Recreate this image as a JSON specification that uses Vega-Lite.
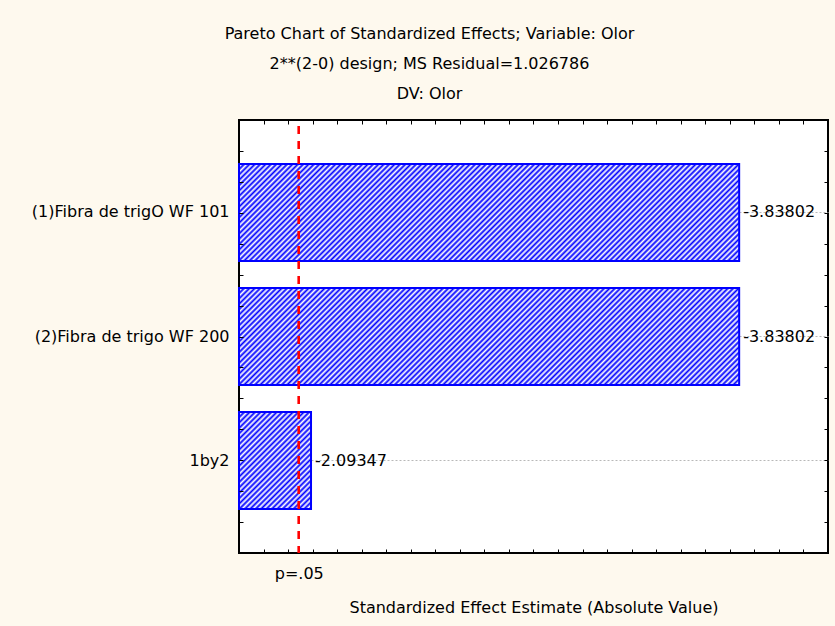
{
  "$schema": "https://vega.github.io/schema/vega-lite/v6.json",
  "width": 589,
  "height": 433,
  "autosize": {"type": "none"},
  "padding": {"left": 239, "top": 120, "right": 7, "bottom": 73},
  "background": "#fef9ee",
  "config": {
    "view": {"fill": "#ffffff", "stroke": "#000000", "strokeWidth": 2},
    "font": "DejaVu Sans",
    "axis": {"labelFont": "DejaVu Sans", "titleFont": "DejaVu Sans", "labelColor": "#000000", "titleColor": "#000000", "labelFontSize": 16, "titleFontSize": 16, "titleFontWeight": "normal", "domain": false, "grid": false, "tickColor": "#000000", "tickWidth": 1}
  },
  "title": {
    "text": ["Pareto Chart of Standardized Effects; Variable: Olor", "2**(2-0) design; MS Residual=1.026786", "DV: Olor"],
    "font": "DejaVu Sans", "fontSize": 16, "fontWeight": "normal", "color": "#000000",
    "lineHeight": 30, "anchor": "middle", "frame": "group", "offset": 17, "dx": -104
  },
  "data": {"values": [
    {"effect": "(1)Fibra de trigO WF 101", "estimate": -3.83802, "abs_estimate": 3.83802},
    {"effect": "(2)Fibra de trigo WF 200", "estimate": -3.83802, "abs_estimate": 3.83802},
    {"effect": "1by2", "estimate": -2.09347, "abs_estimate": 2.09347}
  ]},
  "layer": [
    {
      "mark": {"type": "bar", "stroke": "#0000ff", "strokeWidth": 2},
      "encoding": {
        "y": {"field": "effect", "type": "nominal", "sort": null,
          "scale": {"type": "band", "paddingInner": 0.2177, "paddingOuter": 0.3548},
          "axis": {"orient": "left", "title": null, "ticks": false, "labelPadding": 10, "labelLimit": 400, "grid": true, "gridColor": "#b8b8b8", "gridDash": [2, 2], "gridWidth": 1, "bandPosition": 0.5, "zindex": 0}},
        "x": {"field": "abs_estimate", "type": "quantitative",
          "scale": {"domain": [1.8, 4.2], "nice": false, "zero": false},
          "axis": {"orient": "bottom", "values": [1.9, 2, 2.1, 2.2, 2.3, 2.4, 2.5, 2.6, 2.7, 2.8, 2.9, 3, 3.1, 3.2, 3.3, 3.4, 3.5, 3.6, 3.7, 3.8, 3.9, 4, 4.1], "labels": false, "ticks": true, "tickSize": 4, "offset": -4, "title": "Standardized Effect Estimate (Absolute Value)", "titlePadding": 46, "zindex": 1}},
        "x2": {"datum": 1.8},
        "fill": {
          "condition": {"test": "datum.abs_estimate < 3", "value": {"gradient": "linear", "x1": 0, "y1": 0, "x2": 0.834, "y2": 1.1233, "stops": [
{"offset":0,"color":"#00f"},{"offset":0.016,"color":"#fff"},{"offset":0.032,"color":"#00f"},{"offset":0.048,"color":"#fff"},{"offset":0.064,"color":"#00f"},{"offset":0.08,"color":"#fff"},{"offset":0.096,"color":"#00f"},{"offset":0.112,"color":"#fff"},{"offset":0.128,"color":"#00f"},{"offset":0.144,"color":"#fff"},
{"offset":0.16,"color":"#00f"},{"offset":0.176,"color":"#fff"},{"offset":0.192,"color":"#00f"},{"offset":0.208,"color":"#fff"},{"offset":0.224,"color":"#00f"},{"offset":0.24,"color":"#fff"},{"offset":0.256,"color":"#00f"},{"offset":0.272,"color":"#fff"},{"offset":0.288,"color":"#00f"},{"offset":0.304,"color":"#fff"},
{"offset":0.32,"color":"#00f"},{"offset":0.336,"color":"#fff"},{"offset":0.352,"color":"#00f"},{"offset":0.368,"color":"#fff"},{"offset":0.384,"color":"#00f"},{"offset":0.4,"color":"#fff"},{"offset":0.416,"color":"#00f"},{"offset":0.432,"color":"#fff"},{"offset":0.448,"color":"#00f"},{"offset":0.464,"color":"#fff"},
{"offset":0.48,"color":"#00f"},{"offset":0.496,"color":"#fff"},{"offset":0.512,"color":"#00f"},{"offset":0.528,"color":"#fff"},{"offset":0.544,"color":"#00f"},{"offset":0.56,"color":"#fff"},{"offset":0.576,"color":"#00f"},{"offset":0.592,"color":"#fff"},{"offset":0.608,"color":"#00f"},{"offset":0.624,"color":"#fff"},
{"offset":0.64,"color":"#00f"},{"offset":0.656,"color":"#fff"},{"offset":0.672,"color":"#00f"},{"offset":0.688,"color":"#fff"},{"offset":0.704,"color":"#00f"},{"offset":0.72,"color":"#fff"},{"offset":0.736,"color":"#00f"},{"offset":0.752,"color":"#fff"},{"offset":0.768,"color":"#00f"},{"offset":0.784,"color":"#fff"},
{"offset":0.8,"color":"#00f"},{"offset":0.816,"color":"#fff"},{"offset":0.832,"color":"#00f"},{"offset":0.848,"color":"#fff"},{"offset":0.864,"color":"#00f"},{"offset":0.88,"color":"#fff"},{"offset":0.896,"color":"#00f"},{"offset":0.912,"color":"#fff"},{"offset":0.928,"color":"#00f"},{"offset":0.944,"color":"#fff"},
{"offset":0.96,"color":"#00f"},{"offset":0.976,"color":"#fff"},{"offset":0.992,"color":"#00f"}
          ]}},
          "value": {"gradient": "linear", "x1": 0, "y1": 0, "x2": 1.1508, "y2": 0.2236, "stops": [
{"offset":0,"color":"#00f"},{"offset":0.0045,"color":"#fff"},{"offset":0.009,"color":"#00f"},{"offset":0.0135,"color":"#fff"},{"offset":0.018,"color":"#00f"},{"offset":0.0225,"color":"#fff"},{"offset":0.027,"color":"#00f"},{"offset":0.0315,"color":"#fff"},{"offset":0.036,"color":"#00f"},{"offset":0.0405,"color":"#fff"},
{"offset":0.045,"color":"#00f"},{"offset":0.0495,"color":"#fff"},{"offset":0.054,"color":"#00f"},{"offset":0.0585,"color":"#fff"},{"offset":0.063,"color":"#00f"},{"offset":0.0675,"color":"#fff"},{"offset":0.072,"color":"#00f"},{"offset":0.0765,"color":"#fff"},{"offset":0.081,"color":"#00f"},{"offset":0.0855,"color":"#fff"},
{"offset":0.09,"color":"#00f"},{"offset":0.0945,"color":"#fff"},{"offset":0.099,"color":"#00f"},{"offset":0.1035,"color":"#fff"},{"offset":0.108,"color":"#00f"},{"offset":0.1125,"color":"#fff"},{"offset":0.117,"color":"#00f"},{"offset":0.1215,"color":"#fff"},{"offset":0.126,"color":"#00f"},{"offset":0.1305,"color":"#fff"},
{"offset":0.135,"color":"#00f"},{"offset":0.1395,"color":"#fff"},{"offset":0.144,"color":"#00f"},{"offset":0.1485,"color":"#fff"},{"offset":0.153,"color":"#00f"},{"offset":0.1575,"color":"#fff"},{"offset":0.162,"color":"#00f"},{"offset":0.1665,"color":"#fff"},{"offset":0.171,"color":"#00f"},{"offset":0.1755,"color":"#fff"},
{"offset":0.18,"color":"#00f"},{"offset":0.1845,"color":"#fff"},{"offset":0.189,"color":"#00f"},{"offset":0.1935,"color":"#fff"},{"offset":0.198,"color":"#00f"},{"offset":0.2025,"color":"#fff"},{"offset":0.207,"color":"#00f"},{"offset":0.2115,"color":"#fff"},{"offset":0.216,"color":"#00f"},{"offset":0.2205,"color":"#fff"},
{"offset":0.225,"color":"#00f"},{"offset":0.2295,"color":"#fff"},{"offset":0.234,"color":"#00f"},{"offset":0.2385,"color":"#fff"},{"offset":0.243,"color":"#00f"},{"offset":0.2475,"color":"#fff"},{"offset":0.252,"color":"#00f"},{"offset":0.2565,"color":"#fff"},{"offset":0.261,"color":"#00f"},{"offset":0.2655,"color":"#fff"},
{"offset":0.27,"color":"#00f"},{"offset":0.2745,"color":"#fff"},{"offset":0.279,"color":"#00f"},{"offset":0.2835,"color":"#fff"},{"offset":0.288,"color":"#00f"},{"offset":0.2925,"color":"#fff"},{"offset":0.297,"color":"#00f"},{"offset":0.3015,"color":"#fff"},{"offset":0.306,"color":"#00f"},{"offset":0.3105,"color":"#fff"},
{"offset":0.315,"color":"#00f"},{"offset":0.3195,"color":"#fff"},{"offset":0.324,"color":"#00f"},{"offset":0.3285,"color":"#fff"},{"offset":0.333,"color":"#00f"},{"offset":0.3375,"color":"#fff"},{"offset":0.342,"color":"#00f"},{"offset":0.3465,"color":"#fff"},{"offset":0.351,"color":"#00f"},{"offset":0.3555,"color":"#fff"},
{"offset":0.36,"color":"#00f"},{"offset":0.3645,"color":"#fff"},{"offset":0.369,"color":"#00f"},{"offset":0.3735,"color":"#fff"},{"offset":0.378,"color":"#00f"},{"offset":0.3825,"color":"#fff"},{"offset":0.387,"color":"#00f"},{"offset":0.3915,"color":"#fff"},{"offset":0.396,"color":"#00f"},{"offset":0.4005,"color":"#fff"},
{"offset":0.405,"color":"#00f"},{"offset":0.4095,"color":"#fff"},{"offset":0.414,"color":"#00f"},{"offset":0.4185,"color":"#fff"},{"offset":0.423,"color":"#00f"},{"offset":0.4275,"color":"#fff"},{"offset":0.432,"color":"#00f"},{"offset":0.4365,"color":"#fff"},{"offset":0.441,"color":"#00f"},{"offset":0.4455,"color":"#fff"},
{"offset":0.45,"color":"#00f"},{"offset":0.4545,"color":"#fff"},{"offset":0.459,"color":"#00f"},{"offset":0.4635,"color":"#fff"},{"offset":0.468,"color":"#00f"},{"offset":0.4725,"color":"#fff"},{"offset":0.477,"color":"#00f"},{"offset":0.4815,"color":"#fff"},{"offset":0.486,"color":"#00f"},{"offset":0.4905,"color":"#fff"},
{"offset":0.495,"color":"#00f"},{"offset":0.4995,"color":"#fff"},{"offset":0.504,"color":"#00f"},{"offset":0.5085,"color":"#fff"},{"offset":0.513,"color":"#00f"},{"offset":0.5175,"color":"#fff"},{"offset":0.522,"color":"#00f"},{"offset":0.5265,"color":"#fff"},{"offset":0.531,"color":"#00f"},{"offset":0.5355,"color":"#fff"},
{"offset":0.54,"color":"#00f"},{"offset":0.5445,"color":"#fff"},{"offset":0.549,"color":"#00f"},{"offset":0.5535,"color":"#fff"},{"offset":0.558,"color":"#00f"},{"offset":0.5625,"color":"#fff"},{"offset":0.567,"color":"#00f"},{"offset":0.5715,"color":"#fff"},{"offset":0.576,"color":"#00f"},{"offset":0.5805,"color":"#fff"},
{"offset":0.585,"color":"#00f"},{"offset":0.5895,"color":"#fff"},{"offset":0.594,"color":"#00f"},{"offset":0.5985,"color":"#fff"},{"offset":0.603,"color":"#00f"},{"offset":0.6075,"color":"#fff"},{"offset":0.612,"color":"#00f"},{"offset":0.6165,"color":"#fff"},{"offset":0.621,"color":"#00f"},{"offset":0.6255,"color":"#fff"},
{"offset":0.63,"color":"#00f"},{"offset":0.6345,"color":"#fff"},{"offset":0.639,"color":"#00f"},{"offset":0.6435,"color":"#fff"},{"offset":0.648,"color":"#00f"},{"offset":0.6525,"color":"#fff"},{"offset":0.657,"color":"#00f"},{"offset":0.6615,"color":"#fff"},{"offset":0.666,"color":"#00f"},{"offset":0.6705,"color":"#fff"},
{"offset":0.675,"color":"#00f"},{"offset":0.6795,"color":"#fff"},{"offset":0.684,"color":"#00f"},{"offset":0.6885,"color":"#fff"},{"offset":0.693,"color":"#00f"},{"offset":0.6975,"color":"#fff"},{"offset":0.702,"color":"#00f"},{"offset":0.7065,"color":"#fff"},{"offset":0.711,"color":"#00f"},{"offset":0.7155,"color":"#fff"},
{"offset":0.72,"color":"#00f"},{"offset":0.7245,"color":"#fff"},{"offset":0.729,"color":"#00f"},{"offset":0.7335,"color":"#fff"},{"offset":0.738,"color":"#00f"},{"offset":0.7425,"color":"#fff"},{"offset":0.747,"color":"#00f"},{"offset":0.7515,"color":"#fff"},{"offset":0.756,"color":"#00f"},{"offset":0.7605,"color":"#fff"},
{"offset":0.765,"color":"#00f"},{"offset":0.7695,"color":"#fff"},{"offset":0.774,"color":"#00f"},{"offset":0.7785,"color":"#fff"},{"offset":0.783,"color":"#00f"},{"offset":0.7875,"color":"#fff"},{"offset":0.792,"color":"#00f"},{"offset":0.7965,"color":"#fff"},{"offset":0.801,"color":"#00f"},{"offset":0.8055,"color":"#fff"},
{"offset":0.81,"color":"#00f"},{"offset":0.8145,"color":"#fff"},{"offset":0.819,"color":"#00f"},{"offset":0.8235,"color":"#fff"},{"offset":0.828,"color":"#00f"},{"offset":0.8325,"color":"#fff"},{"offset":0.837,"color":"#00f"},{"offset":0.8415,"color":"#fff"},{"offset":0.846,"color":"#00f"},{"offset":0.8505,"color":"#fff"},
{"offset":0.855,"color":"#00f"},{"offset":0.8595,"color":"#fff"},{"offset":0.864,"color":"#00f"},{"offset":0.8685,"color":"#fff"},{"offset":0.873,"color":"#00f"},{"offset":0.8775,"color":"#fff"},{"offset":0.882,"color":"#00f"},{"offset":0.8865,"color":"#fff"},{"offset":0.891,"color":"#00f"},{"offset":0.8955,"color":"#fff"},
{"offset":0.9,"color":"#00f"},{"offset":0.9045,"color":"#fff"},{"offset":0.909,"color":"#00f"},{"offset":0.9135,"color":"#fff"},{"offset":0.918,"color":"#00f"},{"offset":0.9225,"color":"#fff"},{"offset":0.927,"color":"#00f"},{"offset":0.9315,"color":"#fff"},{"offset":0.936,"color":"#00f"},{"offset":0.9405,"color":"#fff"},
{"offset":0.945,"color":"#00f"},{"offset":0.9495,"color":"#fff"},{"offset":0.954,"color":"#00f"},{"offset":0.9585,"color":"#fff"},{"offset":0.963,"color":"#00f"},{"offset":0.9675,"color":"#fff"},{"offset":0.972,"color":"#00f"},{"offset":0.9765,"color":"#fff"},{"offset":0.981,"color":"#00f"},{"offset":0.9855,"color":"#fff"},
{"offset":0.99,"color":"#00f"},{"offset":0.9945,"color":"#fff"},{"offset":0.999,"color":"#00f"}
          ]}
        }
      }
    },
    {
      "mark": {"type": "text", "align": "left", "baseline": "middle", "dx": 4, "font": "DejaVu Sans", "fontSize": 16, "color": "#000000"},
      "encoding": {
        "y": {"field": "effect", "type": "nominal", "sort": null, "scale": {"type": "band", "paddingInner": 0.2177, "paddingOuter": 0.3548}, "axis": null},
        "x": {"field": "abs_estimate", "type": "quantitative",
          "scale": {"domain": [1.8, 4.2], "nice": false, "zero": false},
          "axis": {"orient": "top", "values": [1.9, 2, 2.1, 2.2, 2.3, 2.4, 2.5, 2.6, 2.7, 2.8, 2.9, 3, 3.1, 3.2, 3.3, 3.4, 3.5, 3.6, 3.7, 3.8, 3.9, 4, 4.1], "labels": false, "ticks": true, "tickSize": 4, "offset": -4, "title": null, "zindex": 1}},
        "text": {"field": "estimate", "type": "nominal"}
      }
    },
    {
      "mark": {"type": "rule", "color": "#ff0000", "strokeWidth": 2, "strokeDash": [8, 7], "strokeDashOffset": 9},
      "encoding": {
        "x": {"datum": 2.0434, "type": "quantitative",
          "scale": {"domain": [1.8, 4.2], "nice": false, "zero": false},
          "axis": {"orient": "bottom", "values": [2.0434], "labelExpr": "'p=.05'", "ticks": false, "labelPadding": 12, "title": null, "zindex": 1}}
      }
    },
    {
      "mark": {"type": "rule", "opacity": 0},
      "encoding": {
        "y": {"datum": 1, "type": "quantitative",
          "scale": {"domain": [0.25, 3.75], "nice": false, "zero": false},
          "axis": {"orient": "left", "values": [0.5, 0.75, 1, 1.25, 1.5, 1.75, 2, 2.25, 2.5, 2.75, 3, 3.25, 3.5], "labels": false, "ticks": true, "tickSize": 4, "offset": -4, "title": null, "grid": false, "zindex": 1}}
      }
    },
    {
      "mark": {"type": "rule", "opacity": 0},
      "encoding": {
        "y": {"datum": 1, "type": "quantitative",
          "scale": {"domain": [0.25, 3.75], "nice": false, "zero": false},
          "axis": {"orient": "right", "values": [0.5, 0.75, 1, 1.25, 1.5, 1.75, 2, 2.25, 2.5, 2.75, 3, 3.25, 3.5], "labels": false, "ticks": true, "tickSize": 4, "offset": -4, "title": null, "grid": false, "zindex": 1}}
      }
    }
  ],
  "resolve": {"scale": {"y": "independent"}, "axis": {"x": "independent", "y": "independent"}}
}
